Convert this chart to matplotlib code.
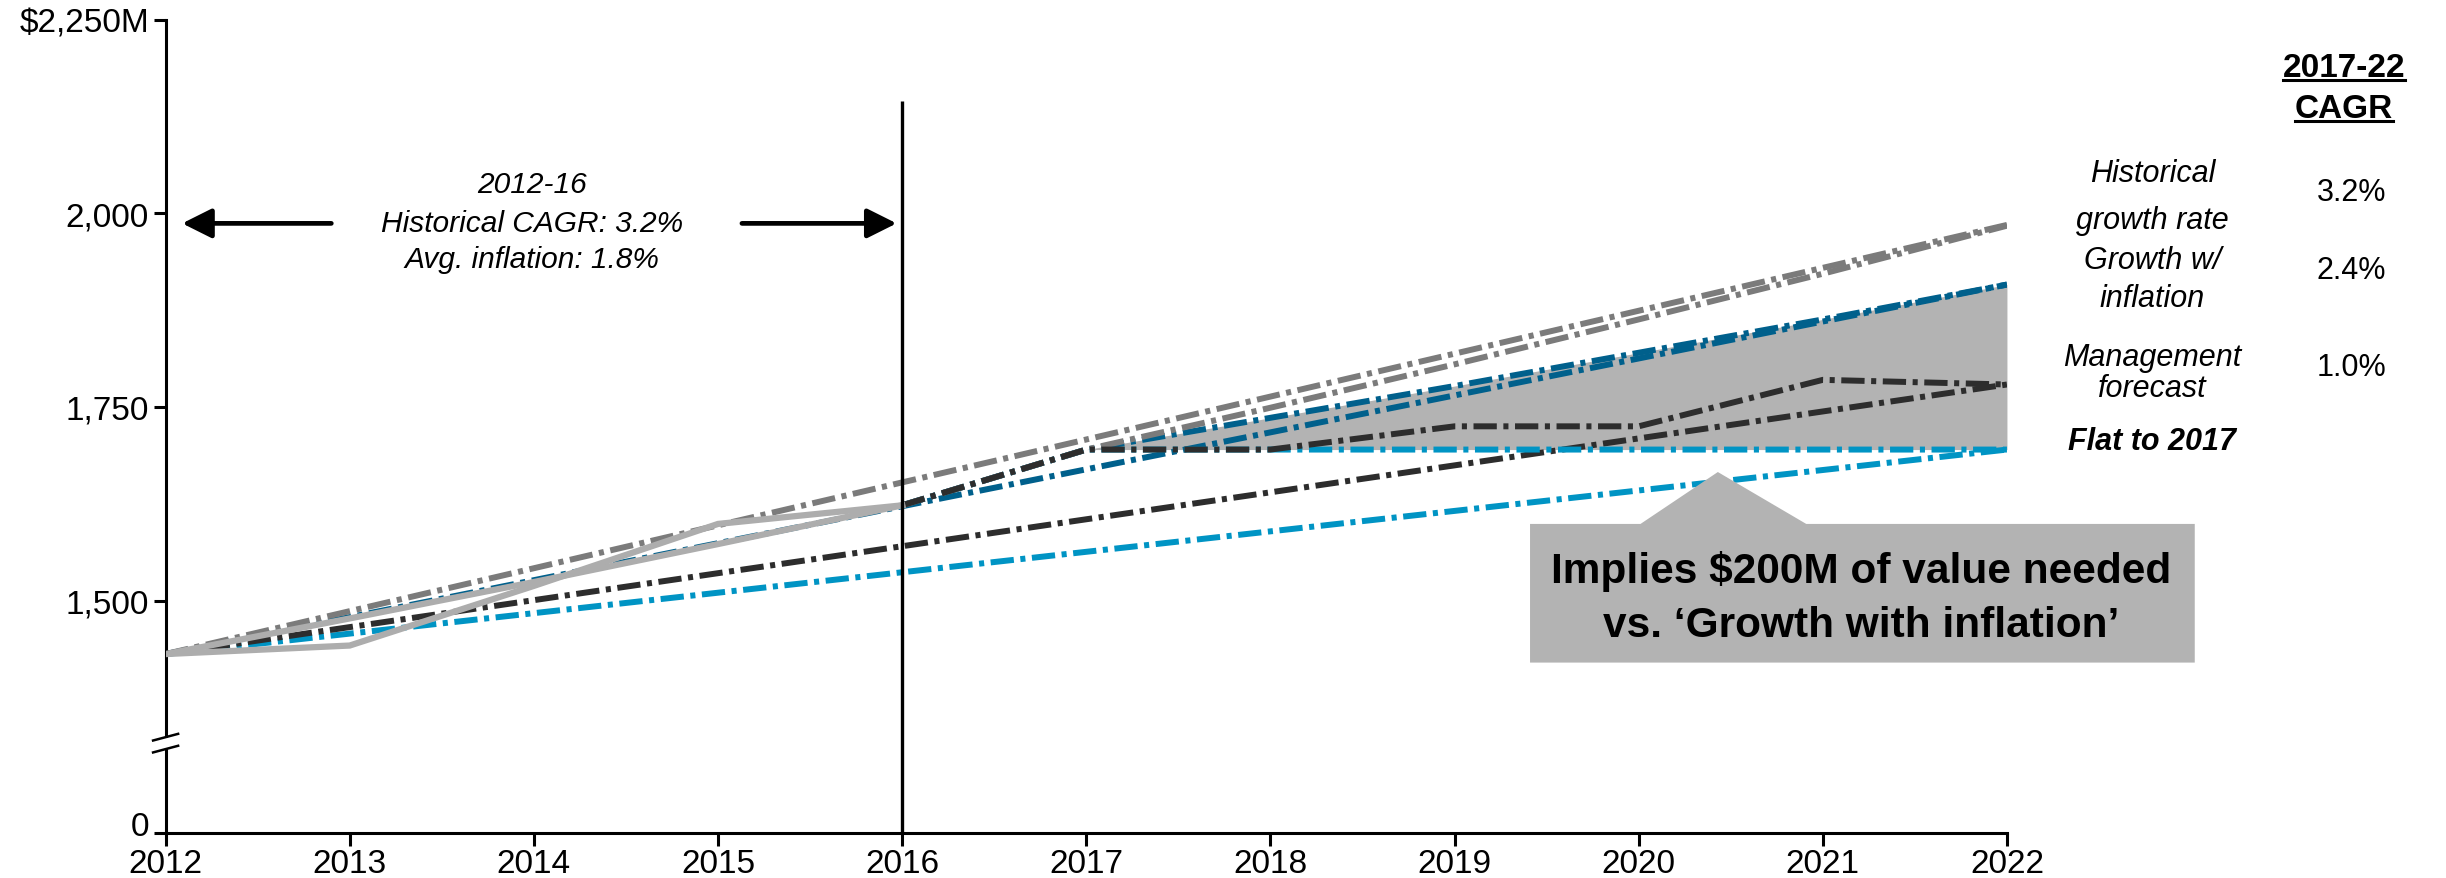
import matplotlib
matplotlib.use("Agg")
import matplotlib.pyplot as plt
import matplotlib.transforms as mtransforms
from matplotlib.lines import Line2D
from matplotlib.patches import Polygon, Rectangle

plt.rcParams["font.family"] = ["Liberation Sans", "DejaVu Sans"]

# actuals 2012-16 plus the smoothed historical trend
hist_years = [2012, 2013, 2014, 2015, 2016]
hist_actual = [1431, 1442, 1519, 1599, 1623]
hist_trend = [1431, 1477, 1524, 1573, 1623]

# straight 2012 -> 2022 reference line for each scenario
span_years = [2012, 2022]
span_hist_rate = [1431, 1985]
span_inflation = [1431, 1908]
span_mgmt = [1431, 1779]
span_flat = [1431, 1695]

# scenario projections out of 2016
proj_years = [2016, 2017, 2018, 2019, 2020, 2021, 2022]
proj_hist_rate = [1623, 1695, 1749, 1805, 1863, 1922, 1984]
proj_inflation = [1623, 1695, 1736, 1777, 1820, 1863, 1908]
proj_mgmt = [1623, 1695, 1695, 1725, 1725, 1785, 1779]
proj_flat = [1623, 1695, 1695, 1695, 1695, 1695, 1695]

scenario_names = [["Historical", "growth rate"], ["Growth w/", "inflation"], ["Management", "forecast"]]
scenario_cagr = ["3.2%", "2.4%", "1.0%"]

# y axis is broken: 1200 stands in for zero
y_ticks = [1200, 1500, 1750, 2000, 2250]
y_tick_labels = ["0", "1,500", "1,750", "2,000", "$2,250M"]
x_ticks = list(range(2012, 2023))

GRAY = "#7b7b7b"
DARK_BLUE = "#00608c"
DARK = "#2d2d2d"
LIGHT_BLUE = "#0094c4"
SOLID_GRAY = "#adadad"
FILL = "#b3b3b3"

DASHDOT = (0, (3.9, 1.1, 0.85, 1.1))
LW = 4.3

fig = plt.figure(figsize=(24.46, 8.79), dpi=100)
ax = fig.add_axes([0.0677, 0.0512, 0.7528, 0.9253])

# gap between flat and growth-with-inflation
ax.fill_between(proj_years[1:], proj_flat[1:], proj_inflation[1:], color=FILL, lw=0, zorder=1)

for vals, col in [(span_flat, LIGHT_BLUE), (span_inflation, DARK_BLUE),
                  (span_hist_rate, GRAY), (span_mgmt, DARK)]:
    ax.plot(span_years, vals, color=col, lw=LW, ls=DASHDOT, zorder=2)
for vals, col in [(proj_flat, LIGHT_BLUE), (proj_inflation, DARK_BLUE),
                  (proj_hist_rate, GRAY), (proj_mgmt, DARK)]:
    ax.plot(proj_years, vals, color=col, lw=LW, ls=DASHDOT, zorder=2)

ax.plot(hist_years, hist_trend, color=SOLID_GRAY, lw=4.5, zorder=3, solid_joinstyle="miter")
ax.plot(hist_years, hist_actual, color=SOLID_GRAY, lw=4.5, zorder=3, solid_joinstyle="miter")

ax.vlines(2016, 1200, 2145, color="black", lw=2.4, zorder=4)

ax.set_xlim(2012, 2022)
ax.set_ylim(1200, 2250)
for s in ("top", "right"):
    ax.spines[s].set_visible(False)
for s in ("left", "bottom"):
    ax.spines[s].set_linewidth(2.2)
ax.set_xticks(x_ticks)
ax.set_xticklabels([str(x) for x in x_ticks])
ax.set_yticks(y_ticks)
ax.set_yticklabels(y_tick_labels)
ax.tick_params(axis="both", length=9, width=2.2, labelsize=24, direction="out")
ax.tick_params(axis="x", pad=2)
ax.tick_params(axis="y", pad=3)
# lift the "0" a little so it clears the 2012 label
zero_lbl = ax.get_yticklabels()[0]
zero_lbl.set_transform(zero_lbl.get_transform()
                       + mtransforms.ScaledTranslation(0, 7 / 72, fig.dpi_scale_trans))

# axis break marks
brk = 1316
yax = ax.get_yaxis_transform()
ax.add_patch(Rectangle((-0.003, brk - 6), 0.006, 12, transform=yax, color="white",
                       clip_on=False, zorder=5))
for dy in (-7.7, 7.7):
    ax.add_line(Line2D([-0.0068, 0.0068], [brk + dy - 4.3, brk + dy + 4.3], transform=yax,
                       color="black", lw=1.8, clip_on=False, zorder=6))

# 2012-16 period annotation
arrow = dict(arrowstyle="-|>,head_length=1.0,head_width=0.5", color="black", lw=3.4,
             mutation_scale=18, shrinkA=0, shrinkB=0)
ax.annotate("", xy=(2012.09, 1987), xytext=(2012.90, 1987), arrowprops=arrow)
ax.annotate("", xy=(2015.97, 1987), xytext=(2015.13, 1987), arrowprops=arrow)
for txt, y in [("2012-16", 2038), ("Historical CAGR: 3.2%", 1987), ("Avg. inflation: 1.8%", 1941)]:
    ax.text(2013.99, y, txt, ha="center", va="center", style="italic", fontsize=21.5)

# scenario labels and CAGR column
lab_x, val_x = 2022.79, 2023.87
name_y = [(2052, 1991), (1940, 1891), (1815, 1775)]
cagr_y = [2027, 1927, 1802]
for (l1, l2), (y1, y2), v, vy in zip(scenario_names, name_y, scenario_cagr, cagr_y):
    ax.text(lab_x, y1, l1, ha="center", va="center", style="italic", fontsize=22)
    ax.text(lab_x, y2, l2, ha="center", va="center", style="italic", fontsize=22)
    ax.text(val_x, vy, v, ha="center", va="center", fontsize=22)
ax.text(lab_x, 1706, "Flat to 2017", ha="center", va="center", style="italic",
        weight="bold", fontsize=22)

head = [ax.text(val_x - 0.04, 2176.7, "2017-22", ha="center", va="baseline", weight="bold", fontsize=24),
        ax.text(val_x - 0.04, 2124, "CAGR", ha="center", va="baseline", weight="bold", fontsize=24)]

# callout box
ax.add_patch(Polygon([[2019.41, 1599], [2020.01, 1599], [2020.43, 1666], [2020.91, 1599],
                      [2023.02, 1599], [2023.02, 1420], [2019.41, 1420]],
                     closed=True, color=FILL, lw=0, clip_on=False, zorder=5))
ax.text(2021.21, 1539, "Implies $200M of value needed", ha="center", va="center",
        weight="bold", fontsize=30.5, zorder=6)
ax.text(2021.21, 1469, "vs. \u2018Growth with inflation\u2019", ha="center", va="center",
        weight="bold", fontsize=30.5, zorder=6)

# underline the column header
fig.canvas.draw()
r = fig.canvas.get_renderer()
inv = fig.transFigure.inverted()
for t in head:
    bb = t.get_window_extent(r)
    base = ax.transData.transform(t.get_position())[1]
    (x0, y0), (x1, _) = inv.transform([(bb.x0, base - 4), (bb.x1, base - 4)])
    fig.add_artist(Line2D([x0, x1], [y0, y0], transform=fig.transFigure, color="black", lw=2.2))

fig.savefig("out.png", dpi=100)
